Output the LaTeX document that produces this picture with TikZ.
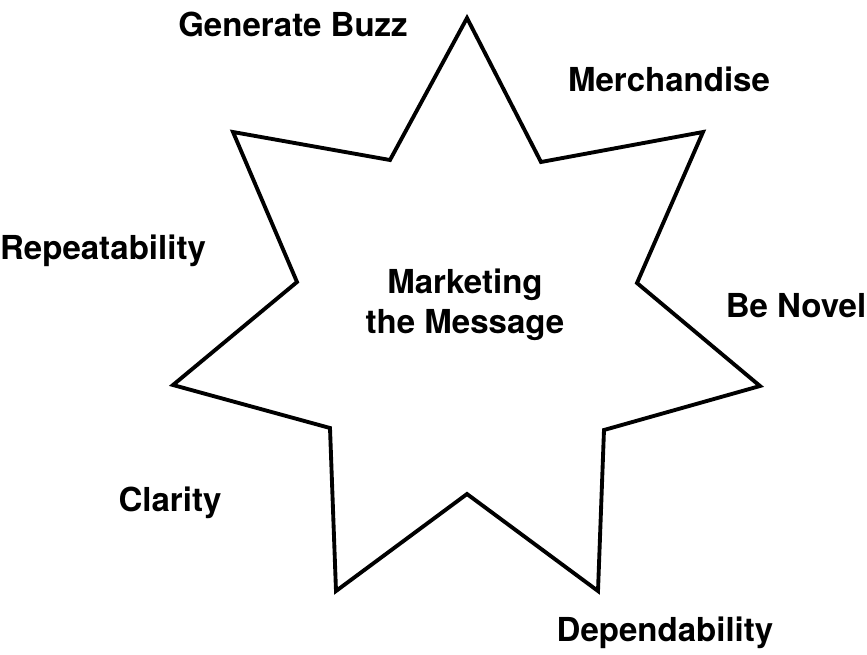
\documentclass[tikz,border=0pt]{standalone}
\usepackage{fontspec}
\setmainfont{TeX Gyre Heros}
\usetikzlibrary{positioning}

\tikzset{
    lbl/.style={font=\fontsize{18.8}{23}\selectfont\bfseries, inner sep=0pt, align=center}
}

\begin{document}
\begin{tikzpicture}[x=0.02cm, y=-0.02cm]
    \useasboundingbox (0,0) rectangle (867,654);
    % the star
    \draw[line width=2.2pt, line join=miter]
        (467,18) -- (541,162) -- (703,132) -- (637,283) -- (760,386) -- (604,430)
        -- (598,591) -- (467,494) -- (336,591) -- (330,428) -- (173,385)
        -- (297,282) -- (233,132) -- (390,160) -- cycle;
    % labels
    \node[lbl] (centre) at (465,305) {Marketing\\the Message};
    \node[lbl] (buzz) at (293,24) {Generate Buzz};
    \node[lbl] (merch) at (669,79) {Merchandise};
    \node[lbl] (repeat) at (103,251) {Repeatability};
    \node[lbl] (novel) at (796,306) {Be Novel};
    \node[lbl] (clarity) at (170,503) {Clarity};
    \node[lbl] (depend) at (665,633) {Dependability};
\end{tikzpicture}
\end{document}
